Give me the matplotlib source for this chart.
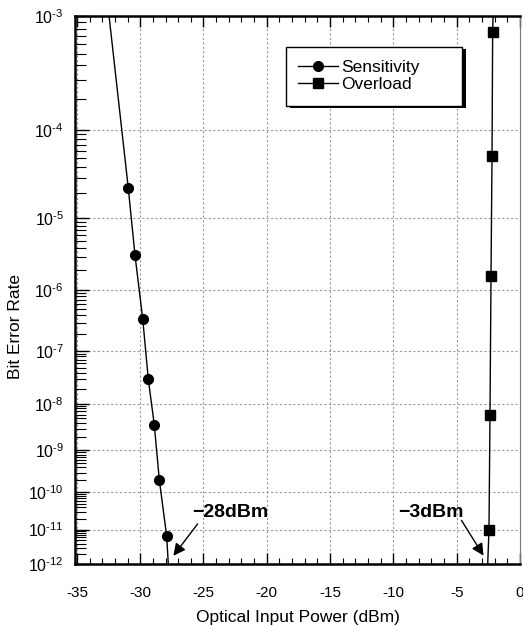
import numpy as np
import matplotlib
matplotlib.use('Agg')
import matplotlib.pyplot as plt
from matplotlib.patches import Rectangle
from matplotlib.ticker import FixedLocator, FuncFormatter, MultipleLocator

plt.rcParams['font.family'] = ['Liberation Sans', 'DejaVu Sans']
plt.rcParams['mathtext.fontset'] = 'custom'
plt.rcParams['mathtext.rm'] = 'Liberation Sans'
plt.rcParams['mathtext.it'] = 'Liberation Sans'
plt.rcParams['axes.unicode_minus'] = False

# data (line ends are the drawn fit ends)
sens_power = [-32.46, -30.94, -30.41, -29.80, -29.36, -28.89, -28.49, -27.91, -27.78]
sens_ber = [1e-3, 2.3e-5, 3.2e-6, 3.5e-7, 3.0e-8, 3.7e-9, 2.0e-10, 6.6e-12, 1e-12]
over_power = [-2.13, -2.16, -2.21, -2.29, -2.37, -2.45, -2.55]
over_ber = [1e-3, 7.5e-4, 5.3e-5, 1.6e-6, 5.9e-9, 1.0e-11, 1e-12]

x_ticks = [-35, -30, -25, -20, -15, -10, -5, 0]
y_decades = [-3, -4, -5, -6, -7, -8, -9, -10, -11, -12]


# BER axis: -log10(-log10(BER))
def fwd(y):
    y = np.clip(np.asarray(y, dtype=float), 1e-300, 0.999999)
    return -np.log10(-np.log10(y))


def inv(u):
    return 10.0 ** (-(10.0 ** (-np.asarray(u, dtype=float))))


fig = plt.figure(figsize=(5.23, 6.26), dpi=100)
ax = fig.add_axes([75 / 523, 62 / 626, 445 / 523, 548 / 626])

ax.set_yscale('function', functions=(fwd, inv))

ax.plot(sens_power, sens_ber, color='black', lw=1.0, marker='o', ms=7,
        markevery=list(range(1, len(sens_power) - 1)), label='Sensitivity', zorder=3)
ax.plot(over_power, over_ber, color='black', lw=1.0, marker='s', ms=7,
        markevery=list(range(1, len(over_power) - 1)), label='Overload', zorder=3)

ax.set_xlim(-35.15, 0)
ax.set_ylim(1e-12, 1e-3)

majors = [10.0 ** d for d in y_decades]
minors = [k * 10.0 ** d for d in y_decades[1:] for k in range(2, 10)]
ax.yaxis.set_major_locator(FixedLocator(majors))
ax.yaxis.set_minor_locator(FixedLocator(minors))
ax.yaxis.set_major_formatter(
    FuncFormatter(lambda v, p: r'$10^{\text{-%d}}$' % -round(np.log10(v))))
ax.yaxis.set_minor_formatter(FuncFormatter(lambda v, p: ''))
ax.xaxis.set_major_locator(FixedLocator(x_ticks))
ax.xaxis.set_minor_locator(MultipleLocator(1))

ax.tick_params(axis='y', which='major', direction='in', length=10, width=1, labelsize=11.5,
               right=False, pad=8)
ax.tick_params(axis='y', which='minor', direction='in', length=8, width=0.8, right=False)
ax.tick_params(axis='x', which='major', direction='in', length=8, width=1, top=True,
               labelsize=11, pad=16)
ax.tick_params(axis='x', which='minor', direction='in', length=4, width=0.8, top=True)

for s in ['left', 'bottom', 'top']:
    ax.spines[s].set_linewidth(1.8)
ax.spines['right'].set_linewidth(0.8)
ax.spines['right'].set_color('#777777')

ax.grid(True, which='major', ls=(0, (2, 2)), color='#999999', lw=0.8)
ax.set_axisbelow(True)

ax.set_xlabel('Optical Input Power (dBm)', fontsize=12.5, labelpad=7)
ax.set_ylabel('Bit Error Rate', fontsize=12.5)
ax.yaxis.set_label_coords(-0.117, 0.434)

# legend box with a hard black shadow
ax.add_patch(Rectangle((0.4735 + 0.009, 0.8363 - 0.0036), 0.3955, 0.1066,
                       transform=ax.transAxes, facecolor='black', edgecolor='none', zorder=4))
ax.add_patch(Rectangle((0.4735, 0.8363), 0.3955, 0.1066, transform=ax.transAxes,
                       facecolor='white', edgecolor='black', lw=1.0, zorder=4.5))
leg = ax.legend(loc='center left', bbox_to_anchor=(0.501, 0.8908), borderaxespad=0,
                borderpad=0, fontsize=12.5, frameon=False, handlelength=2.3,
                handletextpad=0.21, labelspacing=0.13)
leg.set_zorder(5)

# annotations
ax.annotate('', xy=(0.2173, 0.0109), xytext=(0.2793, 0.0772), xycoords='axes fraction',
            textcoords='axes fraction',
            arrowprops=dict(arrowstyle='-|>', color='black', lw=1, mutation_scale=18))
ax.text(0.2622, 0.0863, '\u221228dBm', transform=ax.transAxes, fontsize=14,
        fontweight='bold', va='baseline', ha='left')
ax.annotate('', xy=(0.9213, 0.0109), xytext=(0.8652, 0.0839), xycoords='axes fraction',
            textcoords='axes fraction',
            arrowprops=dict(arrowstyle='-|>', color='black', lw=1, mutation_scale=18))
ax.text(0.7252, 0.0863, '\u22123dBm', transform=ax.transAxes, fontsize=14,
        fontweight='bold', va='baseline', ha='left')

fig.savefig('out.png', dpi=100)
